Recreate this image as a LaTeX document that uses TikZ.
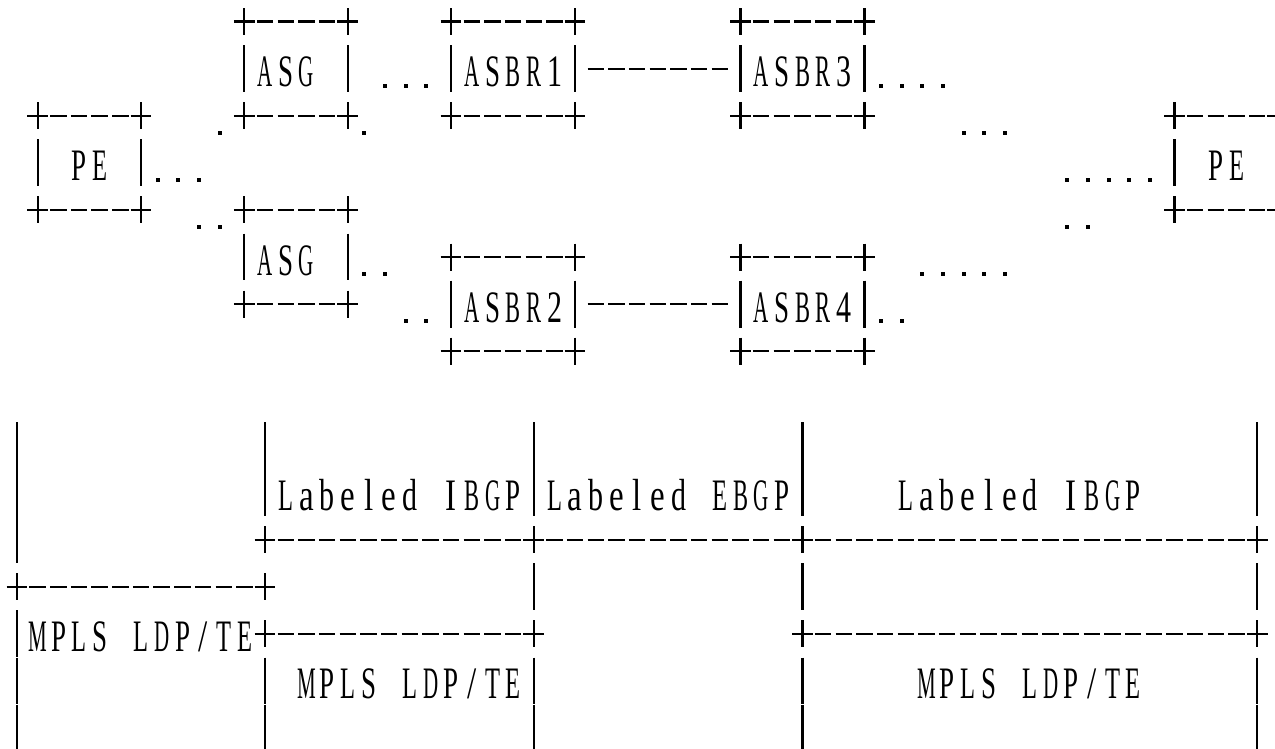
\documentclass[tikz,border=0pt]{standalone}
\usepackage{graphicx}
\usepackage{fontspec}
\newfontfamily\ascfont{Liberation Serif}
\pgfmathdeclarefunction{cx}{1}{\pgfmathparse{17+(#1)*20.67}}
\pgfmathdeclarefunction{ry}{1}{\pgfmathparse{21.5+(#1)*47.1}}
\tikzset{
  gl/.style={line width=2.2pt, line cap=butt, black},
  lbl/.style={inner sep=0pt, anchor=base west, font={\ascfont\fontsize{30}{32}\selectfont}}
}
% monospaced spreading of a label: one 20.67pt cell per character (~ = space),
% each glyph scaled towards a common width, as in the fixed-pitch original
\newsavebox\gbox
\newcommand\sgl[1]{\sbox\gbox{#1}%
  \pgfmathsetmacro\gxs{max(0.7,min(1.1,15/\wd\gbox))}%
  \makebox[20.67pt]{\scalebox{\gxs}[1.5]{#1}}}
\newcommand\spread[1]{\spreadi#1\relax}
\def\spreadi#1{\ifx\relax#1\else\sgl{#1}\expandafter\spreadi\fi}
% ASCII glyphs on the character grid (column, row)
\newcommand\gP[2]{\draw[gl] ({cx(#1)-10.4},{ry(#2)}) -- ({cx(#1)+10.4},{ry(#2)}) ({cx(#1)},{ry(#2)-13.5}) -- ({cx(#1)},{ry(#2)+13.5});}
\newcommand\gD[2]{\draw[gl] ({cx(#1)-8.2},{ry(#2)}) -- ({cx(#1)+8.2},{ry(#2)});}
\newcommand\gB[2]{\draw[gl] ({cx(#1)},{ry(#2)-23.4}) -- ({cx(#1)},{ry(#2)+23.4});}
\newcommand\gT[2]{\fill ({cx(#1)-6},{ry(#2)+15}) rectangle ++(4,4);}
\newcommand\gR[3]{\foreach \cc in {#2,...,#3}{\gD{\cc}{#1}}}
\newcommand\gDots[3]{\foreach \cc in {#2,...,#3}{\gT{\cc}{#1}}}
\newcommand\gH[3]{\gP{#2}{#1}\gP{#3}{#1}%
  \pgfmathtruncatemacro\ga{#2+1}\pgfmathtruncatemacro\gb{#3-1}%
  \foreach \cc in {\ga,...,\gb}{\gD{\cc}{#1}}}
\newcommand\gL[4]{\node[lbl] (#1) at ({cx(#2)-10.335},{ry(#3)+18}) {\spread{#4}};}
\begin{document}
\begin{tikzpicture}[x=1pt,y=-1pt]
\useasboundingbox (0,0) rectangle (1275,748);
\clip (0,0) rectangle (1275,748);
% ---------- upper part ----------
% row 0
\gH{0}{11}{16} \gH{0}{21}{27} \gH{0}{35}{41}
% row 1
\gB{11}{1} \gL{asgA}{12}{1}{ASG} \gB{16}{1}
\gDots{1}{18}{20}
\gB{21}{1} \gL{asbrA}{22}{1}{ASBR1} \gB{27}{1}
\gR{1}{28}{34}
\gB{35}{1} \gL{asbrC}{36}{1}{ASBR3} \gB{41}{1}
\gDots{1}{42}{45}
% row 2
\gH{2}{1}{6} \gT{10}{2} \gH{2}{11}{16} \gT{17}{2}
\gH{2}{21}{27} \gH{2}{35}{41}
\gDots{2}{46}{48}
\gH{2}{56}{61}
% row 3
\gB{1}{3} \gL{peA}{3}{3}{PE} \gB{6}{3}
\gDots{3}{7}{9}
\gDots{3}{51}{55}
\gB{56}{3} \gL{peB}{58}{3}{PE}
% row 4
\gH{4}{1}{6} \gDots{4}{9}{10} \gH{4}{11}{16}
\gDots{4}{51}{52}
\gH{4}{56}{61}
% row 5
\gB{11}{5} \gL{asgB}{12}{5}{ASG} \gB{16}{5}
\gDots{5}{17}{18}
\gH{5}{21}{27} \gH{5}{35}{41}
\gDots{5}{44}{48}
% row 6
\gH{6}{11}{16} \gDots{6}{19}{20}
\gB{21}{6} \gL{asbrB}{22}{6}{ASBR2} \gB{27}{6}
\gR{6}{28}{34}
\gB{35}{6} \gL{asbrD}{36}{6}{ASBR4} \gB{41}{6}
\gDots{6}{42}{43}
% row 7
\gH{7}{21}{27} \gH{7}{35}{41}
% ---------- lower part ----------
\foreach \rr in {9,10}{\gB{0}{\rr}\gB{12}{\rr}\gB{25}{\rr}\gB{38}{\rr}\gB{60}{\rr}}
\gL{ibgpA}{13}{10}{Labeled~IBGP}
\gL{ebgp}{26}{10}{Labeled~EBGP}
\gL{ibgpB}{43}{10}{Labeled~IBGP}
% row 11
\gB{0}{11} \gH{11}{12}{25} \gH{11}{25}{38} \gH{11}{38}{60}
% row 12
\gH{12}{0}{12} \gB{25}{12} \gB{38}{12} \gB{60}{12}
% row 13
\gB{0}{13} \gL{mplsA}{1}{13}{MPLS~LDP/TE}
\gH{13}{12}{25} \gH{13}{38}{60}
% rows 14-15
\foreach \rr in {14,15}{\gB{0}{\rr}\gB{12}{\rr}\gB{25}{\rr}\gB{38}{\rr}\gB{60}{\rr}}
\gL{mplsB}{14}{14}{MPLS~LDP/TE}
\gL{mplsC}{44}{14}{MPLS~LDP/TE}
\end{tikzpicture}
\end{document}
